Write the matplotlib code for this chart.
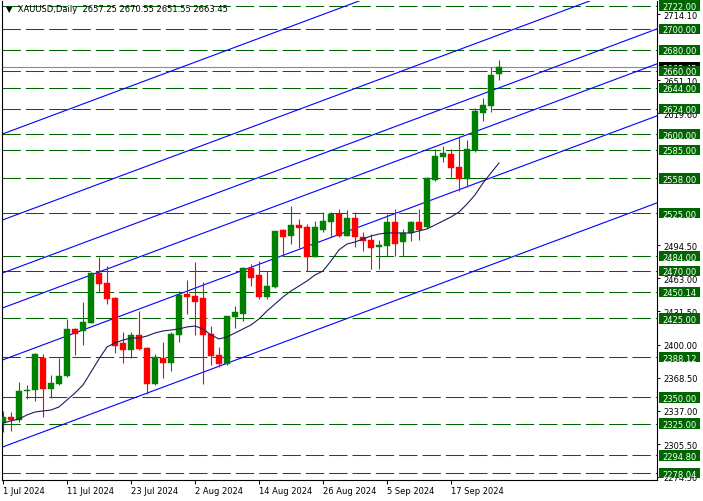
import numpy as np
import pandas as pd
import matplotlib
matplotlib.use('Agg')
import matplotlib.pyplot as plt
from matplotlib.patches import Rectangle

# XAUUSD daily candles, 1 Jul 2024 - 25 Sep 2024
dates = pd.bdate_range('2024-07-01', '2024-09-25')

opens = [2325.6, 2331.0, 2328.7, 2355.8, 2356.6, 2387.0, 2357.9, 2362.6, 2370.2, 2414.9,
         2413.0, 2420.8, 2468.1, 2458.6, 2444.3, 2401.3, 2395.2, 2409.2, 2396.8, 2362.6,
         2387.0, 2382.6, 2409.2, 2448.1, 2445.9, 2444.3, 2410.1, 2390.2, 2381.6, 2426.5,
         2429.1, 2472.5, 2466.2, 2445.0, 2454.5, 2509.2, 2503.0, 2513.7, 2511.5, 2483.5,
         2509.2, 2516.8, 2524.1, 2503.5, 2520.3, 2502.0, 2499.4, 2492.5, 2494.0, 2516.8,
         2497.2, 2506.1, 2516.2, 2511.5, 2556.4, 2578.5, 2581.1, 2569.0, 2557.4, 2584.9,
         2620.1, 2627.0, 2657.25]
highs = [2337.2, 2335.7, 2364.2, 2361.7, 2391.8, 2390.8, 2371.2, 2387.0, 2424.4, 2415.5,
         2440.2, 2469.3, 2483.0, 2475.0, 2445.0, 2411.7, 2412.3, 2432.3, 2397.5, 2391.1,
         2402.2, 2412.3, 2451.3, 2461.4, 2478.2, 2459.2, 2417.4, 2397.5, 2427.5, 2436.4,
         2473.5, 2476.6, 2479.7, 2470.3, 2508.3, 2509.9, 2532.0, 2519.4, 2514.6, 2517.7,
         2525.7, 2526.3, 2528.9, 2528.2, 2526.3, 2506.7, 2505.1, 2499.4, 2524.1, 2528.9,
         2509.9, 2517.7, 2528.9, 2559.6, 2585.9, 2588.4, 2585.9, 2598.5, 2594.7, 2624.5,
         2634.0, 2663.5, 2670.55]
lows = [2317.3, 2318.2, 2326.2, 2348.4, 2346.8, 2331.6, 2349.3, 2361.5, 2369.6, 2390.2,
        2399.7, 2420.6, 2449.7, 2438.6, 2392.1, 2382.6, 2387.0, 2394.8, 2353.1, 2361.8,
        2368.0, 2375.0, 2402.8, 2429.1, 2409.4, 2362.6, 2380.7, 2378.5, 2380.7, 2415.8,
        2422.7, 2456.0, 2443.4, 2443.4, 2453.9, 2483.9, 2495.6, 2491.5, 2470.3, 2483.0,
        2506.7, 2502.0, 2502.0, 2502.9, 2492.5, 2489.3, 2471.9, 2471.9, 2484.5, 2484.5,
        2484.5, 2498.7, 2499.7, 2510.5, 2555.8, 2573.8, 2559.0, 2546.2, 2549.5, 2583.3,
        2612.7, 2621.3, 2651.55]
closes = [2331.0, 2328.7, 2355.7, 2356.4, 2390.8, 2357.9, 2363.6, 2370.2, 2414.9, 2409.8,
          2421.8, 2468.1, 2457.9, 2443.4, 2399.0, 2395.2, 2409.2, 2396.0, 2362.6, 2388.5,
          2382.6, 2410.1, 2447.2, 2445.3, 2440.5, 2409.2, 2389.5, 2381.6, 2426.9, 2430.7,
          2472.5, 2463.6, 2445.0, 2456.0, 2507.7, 2502.6, 2513.7, 2511.1, 2483.5, 2511.5,
          2517.2, 2524.1, 2503.5, 2520.3, 2502.6, 2498.7, 2491.8, 2494.7, 2516.8, 2495.9,
          2505.8, 2516.2, 2509.2, 2558.3, 2579.5, 2581.8, 2567.8, 2557.4, 2585.9, 2622.3,
          2627.7, 2656.2, 2663.45]

# moving average
ma = [2325.6, 2327.5, 2329.4, 2333.2, 2336.0, 2337.0, 2337.9, 2340.8, 2347.4, 2354.1,
      2361.7, 2374.0, 2386.4, 2397.8, 2401.6, 2404.4, 2406.3, 2406.3, 2408.2, 2411.1,
      2413.0, 2413.9, 2414.9, 2416.8, 2417.7, 2414.9, 2409.2, 2405.4, 2407.3, 2411.1,
      2414.9, 2418.7, 2424.4, 2432.0, 2438.6, 2445.3, 2451.0, 2455.7, 2460.5, 2466.2,
      2470.0, 2479.5, 2490.0, 2495.6, 2497.5, 2500.4, 2503.2, 2505.1, 2506.1, 2506.1,
      2506.1, 2506.1, 2508.0, 2509.9, 2513.7, 2517.5, 2521.3, 2526.0, 2533.6, 2542.2,
      2553.6, 2563.1, 2572.6]

# horizontal support / resistance levels
levels = [2722.00, 2700.00, 2680.00, 2660.00, 2644.00, 2624.00, 2600.00, 2585.00,
          2558.00, 2525.00, 2484.00, 2470.00, 2450.14, 2425.00, 2388.12, 2350.00,
          2325.00, 2294.80, 2278.04]

# parallel channel lines: value at first bar, common slope per bar
channel_at_first = [2600.3, 2518.6, 2468.2, 2435.0, 2385.6, 2302.9]
channel_slope = 2.835

last_price = 2663.45
price_ticks = [2714.10, 2651.10, 2619.60, 2494.50, 2463.00, 2431.50, 2400.00,
               2368.50, 2337.00, 2305.50, 2274.50]

x = np.arange(len(dates))

W, H = 703, 502
fig = plt.figure(figsize=(W / 100, H / 100), dpi=100)
ax = fig.add_axes([2 / W, 1 - 481 / H, 655 / W, 479 / H])
ax.set_xlim(-0.125, 81.75)
ax.set_ylim(2271.4, 2726.47)

# levels
for lv in levels:
    ax.axhline(lv, color='#006400', lw=0.75, dashes=(17.6, 4.8), zorder=1)

# channel
for p in channel_at_first:
    ax.axline((0, p), slope=channel_slope, color='#0000ff', lw=0.8, zorder=1.2)

ax.axhline(last_price, color='#8c8c8c', lw=0.8, zorder=1.1)

# candles
o = np.array(opens); c = np.array(closes)
up = c >= o
cols = np.where(up, '#008000', '#ff0000')
ax.vlines(x, lows, highs, colors=cols, lw=0.8, zorder=2)
bottoms = np.minimum(o, c)
heights = np.maximum(np.abs(c - o), 0.9)
ax.bar(x, heights, bottom=bottoms, width=0.66, color=cols, edgecolor=cols,
       linewidth=0.3, zorder=3)

ax.plot(x, ma, color='#1c1c5c', lw=0.8, zorder=4)

# axes styling
ax.spines['top'].set_visible(False)
for s in ['left', 'bottom', 'right']:
    ax.spines[s].set_linewidth(0.8)

ax.yaxis.tick_right()
ax.set_yticks(price_ticks)
ax.set_yticklabels([f'{v:.2f}' for v in price_ticks])
ax.tick_params(axis='y', length=2.2, width=0.7, pad=2.2, labelsize=6)

tick_idx = x[::8][:8]
ax.set_xticks(tick_idx)
ax.set_xticklabels([f'{d.day} {d.strftime("%b %Y")}' for d in dates[tick_idx]],
                   ha='left')
ax.tick_params(axis='x', length=3, width=0.7, pad=1.5, labelsize=6)

# price boxes on the right
ytr = ax.get_yaxis_transform()
bx0 = (659 - 2) / 655
bw = 41 / 655
tx = (662 - 2) / 655

ax.add_patch(Rectangle((bx0, last_price - 5), bw, 10, transform=ytr,
                       fc='black', ec='none', clip_on=False, zorder=5))
ax.text(tx, last_price, f'{last_price:.2f}', transform=ytr, color='white',
        fontsize=6, ha='left', va='center_baseline', clip_on=False, zorder=5.5)

for lv in levels:
    ax.add_patch(Rectangle((bx0, lv - 5), bw, 10, transform=ytr,
                           fc='#006400', ec='none', clip_on=False, zorder=6))
    ax.text(tx, lv, f'{lv:.2f}', transform=ytr, color='white', fontsize=6,
            ha='left', va='center_baseline', clip_on=False, zorder=7)

fig.text(6 / W, 1 - 10 / H, '▼  XAUUSD,Daily  2657.25 2670.55 2651.55 2663.45',
         fontsize=6, va='center', ha='left')

fig.savefig('out.png', dpi=100)
